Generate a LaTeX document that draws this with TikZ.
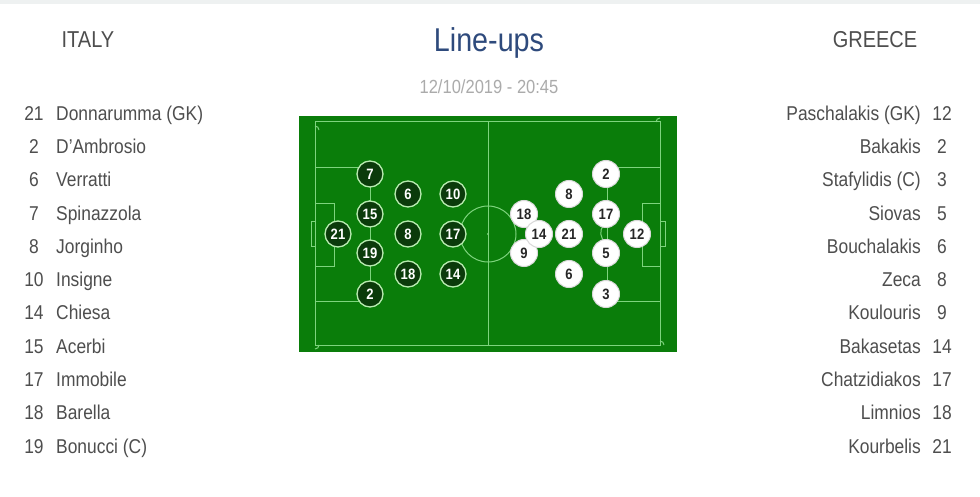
\documentclass[tikz,border=0pt]{standalone}
\usepackage{fontspec}
\setmainfont{Liberation Sans}[FakeStretch=0.87]
\definecolor{pitch}{HTML}{0A7D0A}
\definecolor{pline}{HTML}{7ED47E}
\definecolor{itafill}{HTML}{0B3B0B}
\definecolor{itaborder}{HTML}{B8EBB0}
\definecolor{txt}{HTML}{4E4E4E}
\definecolor{titleblue}{HTML}{2E4A7C}
\definecolor{datecol}{HTML}{ABABAB}
\definecolor{topbar}{HTML}{EEF1F1}
\begin{document}
\begin{tikzpicture}[x=1pt,y=-1pt,
  pl/.style={draw=pline,line width=1pt},
  ita/.style={circle,fill=itafill,draw=itaborder,line width=1.3pt,minimum size=26pt,inner sep=0pt,text=white,font=\bfseries\fontsize{15}{15}\selectfont},
  gre/.style={circle,fill=white,draw=black!15,line width=1pt,minimum size=27pt,inner sep=0pt,text=black!85,font=\bfseries\fontsize{15}{15}\selectfont},
  num/.style={text=txt,font=\fontsize{20}{24}\selectfont,anchor=mid,inner sep=0pt},
  lname/.style={text=txt,font=\fontsize{20}{24}\selectfont,anchor=mid west,inner sep=0pt},
  rname/.style={text=txt,font=\fontsize{20}{24}\selectfont,anchor=mid east,inner sep=0pt},
  team/.style={text=txt,font=\fontsize{23}{26}\selectfont,inner sep=0pt}]
\useasboundingbox (0,0) rectangle (980,497);
\fill[white] (0,0) rectangle (980,497);
\fill[topbar] (0,0) rectangle (980,4);
% headings
\node[team] (italy) at (88,40) {ITALY};
\node[team] (greece) at (875,40) {GREECE};
\node[text=titleblue,font=\fontsize{33}{36}\selectfont,inner sep=0pt] (title) at (489,43) {Line-ups};
\node[text=datecol,font=\fontsize{19}{22}\selectfont,inner sep=0pt] (date) at (489,87) {12/10/2019 - 20:45};
% pitch
\fill[pitch] (299,116) rectangle (677,352);
\draw[pl] (315,122) rectangle (660,345);
\draw[pl] (488,122) -- (488,345);
\draw[pl] (488,234) circle (28);
\fill[pline] (488,234) circle (1.2);
% left side
\draw[pl] (315,168) rectangle (370,301);
\draw[pl] (315,204) rectangle (334,266);
\draw[pl] (315,222) rectangle (311,247);
\draw[pl] (370,222) arc (-60:60:-12.5) ;
% right side
\draw[pl] (660,168) rectangle (607,301);
\draw[pl] (660,204) rectangle (642,266);
\draw[pl] (660,222) rectangle (665,247);
\draw[pl] (607,222) arc (60:-60:-12.5);
% corner arcs
\draw[pl] (315,126) arc (-90:0:4);
\draw[pl] (319,345) arc (0:90:4);
\draw[pl] (656,122) arc (180:270:4);
\draw[pl] (660,341) arc (270:360:4) ;
% Italy players
\node[ita] (i7) at (370,174) {7};
\node[ita] (i15) at (370,214) {15};
\node[ita] (i19) at (370,253) {19};
\node[ita] (i2) at (370,294) {2};
\node[ita] (i21) at (338,234) {21};
\node[ita] (i6) at (408,194) {6};
\node[ita] (i8) at (408,234) {8};
\node[ita] (i18) at (408,274) {18};
\node[ita] (i10) at (453,194) {10};
\node[ita] (i17) at (453,234) {17};
\node[ita] (i14) at (453,274) {14};
% Greece players
\node[gre] (g2) at (606,174) {2};
\node[gre] (g17) at (606,214) {17};
\node[gre] (g5) at (606,253) {5};
\node[gre] (g3) at (606,294) {3};
\node[gre] (g12) at (637,234) {12};
\node[gre] (g8) at (569,194) {8};
\node[gre] (g6) at (569,274) {6};
\node[gre] (g18) at (524,214) {18};
\node[gre] (g9) at (524,253) {9};
\node[gre] (g14) at (539,234) {14};
\node[gre] (g21) at (569,234) {21};
% Italy list
\foreach \n/\name [count=\k from 0] in {21/Donnarumma (GK),2/D'Ambrosio,6/Verratti,7/Spinazzola,8/Jorginho,10/Insigne,14/Chiesa,15/Acerbi,17/Immobile,18/Barella,19/Bonucci (C)}{
  \node[num] (ln\k) at (34,{117.5+33.3*\k}) {\n};
  \node[lname] (lt\k) at (56,{117.5+33.3*\k}) {\name};
}
% Greece list
\foreach \n/\name [count=\k from 0] in {12/Paschalakis (GK),2/Bakakis,3/Stafylidis (C),5/Siovas,6/Bouchalakis,8/Zeca,9/Koulouris,14/Bakasetas,17/Chatzidiakos,18/Limnios,21/Kourbelis}{
  \node[num] (rn\k) at (942,{117.5+33.3*\k}) {\n};
  \node[rname] (rt\k) at (921,{117.5+33.3*\k}) {\name};
}
\end{tikzpicture}
\end{document}
